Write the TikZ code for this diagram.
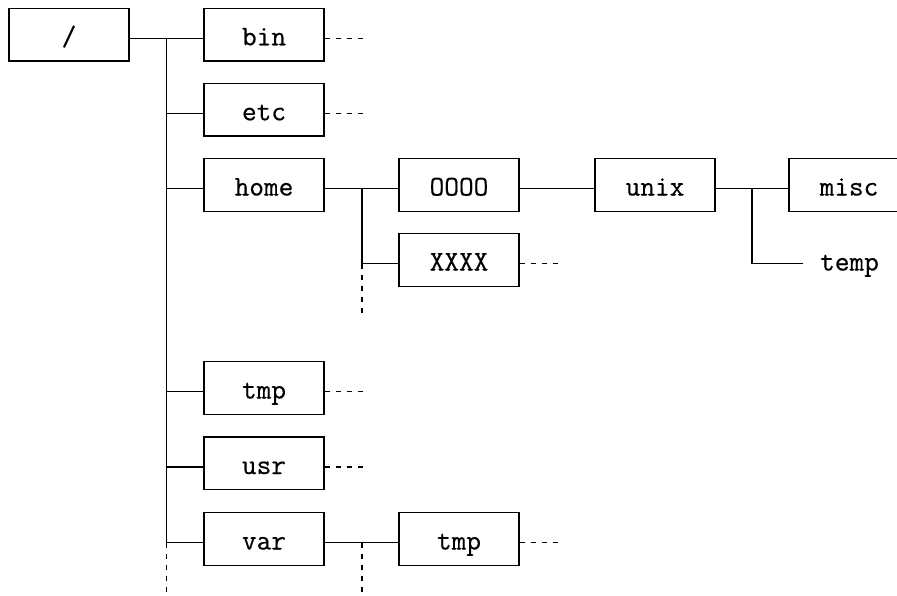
\documentclass[tikz,border=0pt]{standalone}
\usepackage{fontspec}
\newfontfamily\boxfont{Latin Modern Mono}[FakeBold=0.45]
\begin{document}
\begin{tikzpicture}[x=1pt,y=-1pt,
  box/.style={draw, line width=1.4pt, minimum width=120pt, inner xsep=0pt, inner ysep=0pt,
    text height=37pt, text depth=15.7pt, yshift=3.65pt,
    font=\boxfont\fontsize{28.5}{32}\selectfont},
  plain/.style={box, draw=none, minimum width=0pt, inner xsep=16pt},
  ln/.style={line width=1.4pt},
  dsh/.style={line width=1.1pt, dash pattern=on 5.5pt off 5.5pt},
  ys/.style={yshift=-3.65pt}]
\useasboundingbox (0,0) rectangle (897,595);
\clip (0,0) rectangle (897,595);
% nodes
\node[box] (root) at (69,38.3) {/};
\node[box] (bin)  at (264,38.3) {bin};
\node[box] (etc)  at (264,113.3) {etc};
\node[box] (home) at (264,188.5) {home};
\node[box] (oooo) at (459,188.5) {OOOO};
\node[box] (unix) at (655,188.5) {unix};
\node[box] (misc) at (849,188.5) {misc};
\node[box] (xxxx) at (459,263.5) {XXXX};
\node[plain] (temp) at (849.5,263.5) {temp};
\node[box] (tmp)  at (264,391.5) {tmp};
\node[box] (usr)  at (264,467) {usr};
\node[box] (var)  at (264,542.5) {var};
\node[box] (vtmp) at (459,542.5) {tmp};
% trunk coordinates
\coordinate (t0) at (166.7,38.3);
\coordinate (tE) at (166.7,542.5);
\coordinate (tD) at (166.7,600);
\coordinate (h0) at (362,188.5);
\coordinate (h1) at (362,263.5);
\coordinate (h2) at (362,316);
\coordinate (v0) at (362,542.5);
\coordinate (v1) at (362,600);
\coordinate (u0) at (752,188.5);
% connectors
\draw[ln] ([ys]root.east) -- ([ys]bin.west);
\draw[ln] (t0) -- (tE);
\draw[dsh] (tE) -- (tD);
\draw[ln] ([ys]etc.west) -| (t0);
\draw[ln] ([ys]home.west) -| (t0);
\draw[ln] ([ys]tmp.west) -| (t0);
\draw[ln] ([ys]usr.west) -| (t0);
\draw[ln] ([ys]var.west) -| (t0);
\draw[ln] ([ys]home.east) -- ([ys]oooo.west);
\draw[ln] ([ys]xxxx.west) -| (h0);
\draw[dsh] (h1) -- (h2);
\draw[ln] ([ys]oooo.east) -- ([ys]unix.west);
\draw[ln] ([ys]unix.east) -- ([ys]misc.west);
\draw[ln] ([ys]temp.west) -| (u0);
\draw[ln] ([ys]var.east) -- ([ys]vtmp.west);
\draw[dsh] (v0) -- (v1);
% dashed stubs
\foreach \n in {bin,etc,xxxx,tmp,usr,vtmp}
  \draw[dsh] ([ys]\n.east) -- ++(40,0);
\end{tikzpicture}
\end{document}
